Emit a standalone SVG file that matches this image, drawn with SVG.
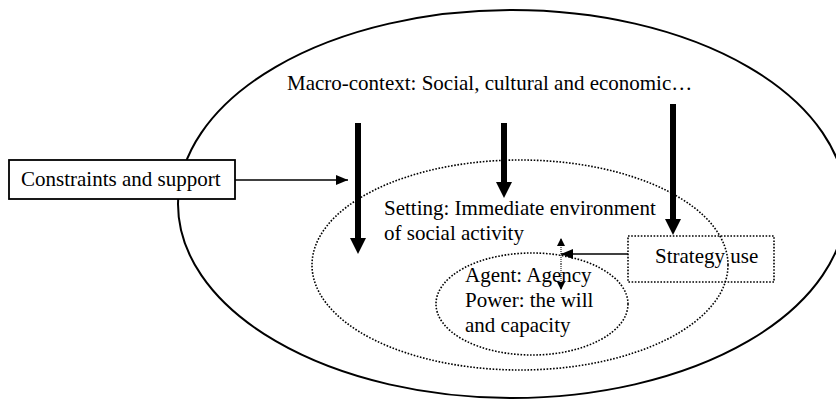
<svg xmlns="http://www.w3.org/2000/svg" width="836" height="399" viewBox="0 0 836 399">
<defs>
<style>
text{font-family:"Liberation Serif","Times New Roman",serif;font-size:21px;fill:#000}
.solid{fill:none;stroke:#000;stroke-width:2}
.dot{fill:none;stroke:#000;stroke-width:1.6;stroke-dasharray:1.6 1.6}
.thick{stroke:#000;stroke-width:6;fill:none}
.thin{stroke:#000;stroke-width:1.3;fill:none}
</style>
<marker id="big" markerUnits="userSpaceOnUse" markerWidth="16" markerHeight="16" viewBox="0 0 16 16" refX="0" refY="8" orient="auto"><path d="M0,0 L16,8 L0,16 z" fill="#000"/></marker>
<marker id="small" markerUnits="userSpaceOnUse" markerWidth="12" markerHeight="10" viewBox="0 0 12 10" refX="12" refY="5" orient="auto"><path d="M0,0 L12,5 L0,10 z" fill="#000"/></marker>
<marker id="tiny" markerUnits="userSpaceOnUse" markerWidth="8" markerHeight="8" viewBox="0 0 8 8" refX="8" refY="4" orient="auto"><path d="M0,0 L8,4 L0,8 z" fill="#000"/></marker>
</defs>
<g id="macro">
<ellipse class="solid" cx="512" cy="204" rx="334" ry="194"/>
<text x="287" y="90">Macro-context: Social, cultural and economic…</text>
</g>
<g id="setting">
<ellipse class="dot" cx="520" cy="265" rx="208" ry="105"/>
<text x="384" y="215">Setting: Immediate environment</text>
<text x="384" y="240">of social activity</text>
</g>
<g id="agent">
<ellipse class="dot" cx="532" cy="304" rx="96" ry="51"/>
<text x="465" y="282">Agent: Agency</text>
<text x="465" y="307">Power: the will</text>
<text x="465" y="332">and capacity</text>
</g>
<g id="constraints">
<rect x="9" y="160" width="226" height="39" fill="#fff" stroke="#000" stroke-width="1.8"/>
<text x="21" y="186">Constraints and support</text>
</g>
<g id="strategy">
<rect class="dot" x="628" y="236" width="146" height="46"/>
<text x="655" y="263">Strategy use</text>
</g>
<g id="connectors">
<line class="thick" x1="358" y1="123" x2="358" y2="238" marker-end="url(#big)"/>
<line class="thick" x1="504" y1="123" x2="504" y2="182" marker-end="url(#big)"/>
<line class="thick" x1="673" y1="104" x2="673" y2="219" marker-end="url(#big)"/>
<line class="thin" x1="235" y1="180" x2="348" y2="180" marker-end="url(#small)"/>
<line class="thin" x1="628" y1="254" x2="561" y2="254" marker-end="url(#small)"/>
<line x1="561" y1="264" x2="561" y2="238" stroke="#000" stroke-width="1" stroke-dasharray="1 1" marker-end="url(#tiny)"/>
<line x1="561" y1="264" x2="561" y2="290" stroke="#000" stroke-width="1" stroke-dasharray="1 1" marker-end="url(#tiny)"/>
</g>
</svg>
